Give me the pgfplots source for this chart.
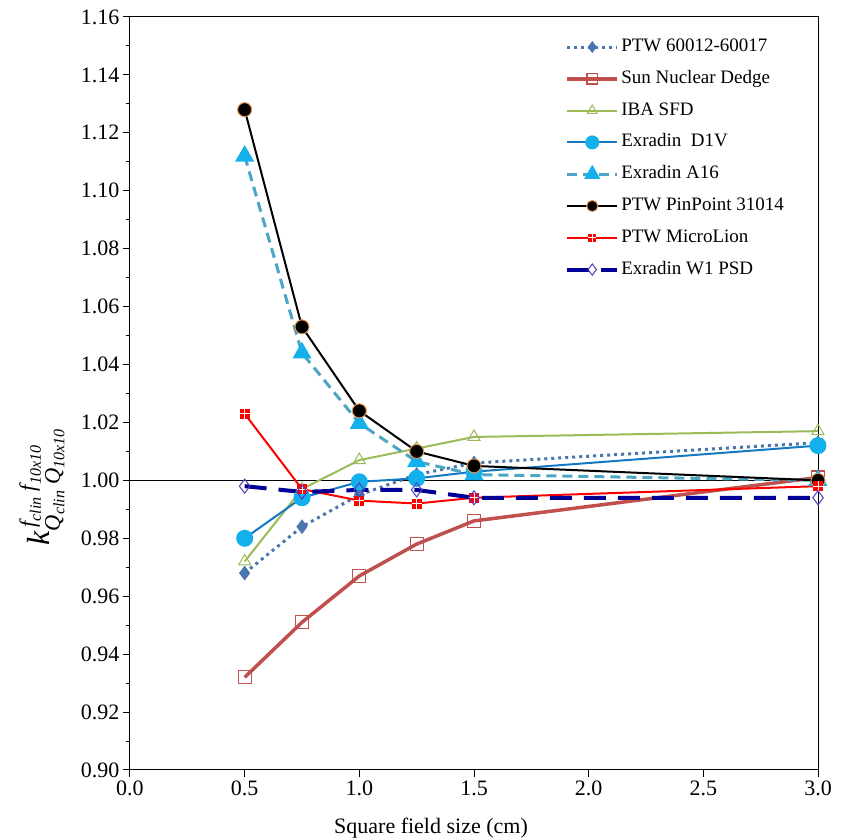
\documentclass[border=0pt]{standalone}
\usepackage{fontspec}
\setmainfont{Liberation Serif}
\usepackage{amsmath}
\usepackage{pgfplots}
\pgfplotsset{compat=1.18}
\usetikzlibrary{calc}
\definecolor{ptwblue}{RGB}{74,118,176}
\definecolor{dedge}{RGB}{192,80,77}
\definecolor{sfd}{RGB}{155,187,89}
\definecolor{dvline}{RGB}{20,120,195}
\definecolor{dvfill}{RGB}{20,176,236}
\definecolor{aline}{RGB}{75,165,195}
\definecolor{afill}{RGB}{20,176,236}
\definecolor{pporange}{RGB}{225,150,80}
\definecolor{wline}{RGB}{0,0,150}
\definecolor{wmark}{RGB}{80,60,190}
\pgfdeclareplotmark{sqplus}{%
  \pgfpathrectangle{\pgfqpoint{-\pgfplotmarksize}{-\pgfplotmarksize}}{\pgfqpoint{2\pgfplotmarksize}{2\pgfplotmarksize}}%
  \pgfusepathqfill
  \pgfsetstrokecolor{white}\pgfsetlinewidth{0.8pt}%
  \pgfpathmoveto{\pgfqpoint{-\pgfplotmarksize}{0pt}}\pgfpathlineto{\pgfqpoint{\pgfplotmarksize}{0pt}}%
  \pgfpathmoveto{\pgfqpoint{0pt}{-\pgfplotmarksize}}\pgfpathlineto{\pgfqpoint{0pt}{\pgfplotmarksize}}%
  \pgfusepathqstroke}
\begin{document}
\begin{tikzpicture}
\begin{axis}[name=ax,
  scale only axis, width=688pt, height=753pt,
  xmin=0, xmax=3, ymin=0.9, ymax=1.16,
  xtick distance=0.5, ytick distance=0.02, minor y tick num=1,
  xtick pos=bottom, ytick pos=left, tick align=outside,
  major tick length=7pt, minor tick length=4pt,
  every tick/.style={black, line width=1pt},
  axis line style={black, line width=1pt},
  tick label style={font=\fontsize{22}{26}\selectfont},
  xticklabel style={/pgf/number format/.cd, fixed, fixed zerofill, precision=1, assume math mode=true},
  yticklabel style={/pgf/number format/.cd, fixed, fixed zerofill, precision=2, assume math mode=true},
  scaled ticks=false,
  xlabel={Square field size (cm)},
  xlabel style={font=\fontsize{22}{26}\selectfont, at={(axis description cs:0.4375,0)}, anchor=north, yshift=-44pt},
  ylabel={$\textit{k}^{\,\textit{f}_{\textit{clin}}\;\textit{f}_{\textit{10x10}}}_{\textit{Q}_{\textit{clin}}\;\textit{Q}_{\textit{10x10}}}$},
  every axis y label/.style={at={(axis description cs:-0.128,0.376)}, rotate=90, anchor=center, font=\fontsize{32}{36}\selectfont},
  legend cell align=left,
  legend style={at={(rel axis cs:0.628,0.977)}, anchor=north west, draw=none, fill=none,
    font=\fontsize{19}{22}\selectfont, row sep=10.8pt,
    nodes={inner sep=2pt, text height=13pt, text depth=4pt}},
  legend image code/.code={\draw[mark repeat=2,mark phase=2,#1,every mark/.append style={scale=0.8}] plot coordinates {(0pt,0pt) (25pt,0pt) (50pt,0pt)};},
]
\addplot[black, line width=1pt, forget plot] coordinates {(0,1) (3,1)};
% PTW 60012-60017
\addplot[ptwblue, line width=3pt, dash pattern=on 3pt off 4pt, mark=diamond*, mark size=7pt,
  mark options={solid, fill=ptwblue, draw=ptwblue, line width=0.5pt}]
  coordinates {(0.5,0.968) (0.75,0.984) (1.0,0.995) (1.25,1.002) (1.5,1.006) (3.0,1.013)};
\addlegendentry{PTW 60012-60017}
% Sun Nuclear Dedge
\addplot[dedge, line width=3.5pt, mark=square, mark size=6.5pt,
  mark options={solid, fill=white, draw=dedge, line width=1.2pt}]
  coordinates {(0.5,0.932) (0.75,0.951) (1.0,0.967) (1.25,0.978) (1.5,0.986) (3.0,1.001)};
\addlegendentry{Sun Nuclear Dedge}
% IBA SFD
\addplot[sfd, line width=2pt, mark=triangle, mark size=7pt,
  mark options={solid, fill=white, draw=sfd, line width=1pt}]
  coordinates {(0.5,0.972) (0.75,0.997) (1.0,1.007) (1.25,1.011) (1.5,1.015) (3.0,1.017)};
\addlegendentry{IBA SFD}
% Exradin D1V
\addplot[dvline, line width=2pt, mark=*, mark size=7.5pt,
  mark options={solid, fill=dvfill, draw=dvfill}]
  coordinates {(0.5,0.980) (0.75,0.994) (1.0,0.9995) (1.25,1.0007) (1.5,1.003) (3.0,1.012)};
\addlegendentry{Exradin\ \ D1V}
% Exradin A16
\addplot[aline, line width=3pt, dash pattern=on 10pt off 6pt, mark=triangle*, mark size=8pt,
  mark options={solid, fill=afill, draw=afill}]
  coordinates {(0.5,1.112) (0.75,1.044) (1.0,1.0197) (1.25,1.0065) (1.5,1.002) (3.0,1.000)};
\addlegendentry{Exradin A16}
% PTW PinPoint 31014
\addplot[black, line width=2pt, mark=*, mark size=7pt,
  mark options={solid, fill=black, draw=pporange, line width=1pt}]
  coordinates {(0.5,1.128) (0.75,1.053) (1.0,1.024) (1.25,1.010) (1.5,1.005) (3.0,1.000)};
\addlegendentry{PTW PinPoint 31014}
% PTW MicroLion
\addplot[red, line width=2pt, mark=sqplus, mark size=5pt,
  mark options={solid, fill=red}]
  coordinates {(0.5,1.023) (0.75,0.997) (1.0,0.993) (1.25,0.992) (1.5,0.994) (3.0,0.998)};
\addlegendentry{PTW MicroLion}
% Exradin W1 PSD
\addplot[wline, line width=4pt, dash pattern=on 22pt off 12pt, mark=diamond, mark size=7pt,
  mark options={solid, fill=white, draw=wmark, line width=1pt}]
  coordinates {(0.5,0.998) (0.75,0.996) (1.0,0.9967) (1.25,0.9967) (1.5,0.994) (3.0,0.994)};
\addlegendentry{Exradin W1 PSD}
\end{axis}
\pgfresetboundingbox
\path[use as bounding box] ($(ax.south west)+(-130pt,-69pt)$) rectangle ($(ax.north east)+(25pt,17pt)$);
\end{tikzpicture}
\end{document}
